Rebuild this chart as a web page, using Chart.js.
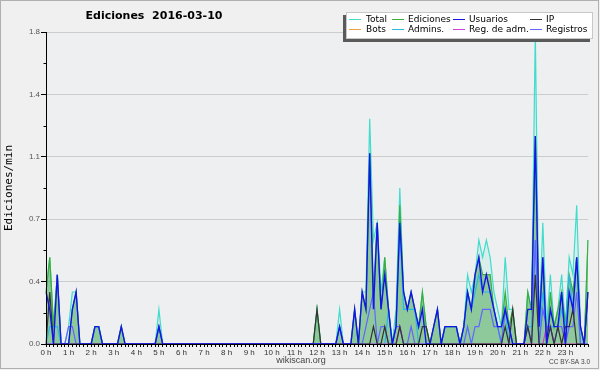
<!DOCTYPE html>
<html>
<head>
<meta charset="utf-8">
<title>Ediciones 2016-03-10</title>
<script src="https://cdn.jsdelivr.net/npm/chart.js@4.4.0/dist/chart.umd.min.js"></script>
<style>
  html, body { margin: 0; padding: 0; background: #f0f0f0; }
  #wrap { width: 600px; height: 370px; }
</style>
</head>
<body>
<div id="wrap"><canvas id="chart" width="600" height="370"></canvas></div>
<script>
// 10 minute slots from 0:00 to 24:00
const slots = [];
for (let h = 0; h <= 24; h++) {
    for (let m = 0; m < 60; m += 10) {
        if (h === 24 && m > 0) break;
        slots.push(h + ':' + (m === 0 ? '00' : m));
    }
}

const hourLabels = ['0 h', '1 h', '2 h', '3 h', '4 h', '5 h', '6 h', '7 h', '8 h', '9 h', '10 h', '11 h',
    '12 h', '13 h', '14 h', '15 h', '16 h', '17 h', '18 h', '19 h', '20 h', '21 h', '22 h', '23 h'];

// edits per minute, one value per 10 min slot
const total = [
    0.3, 0.5, 0.1, 0.4, 0, 0, 0.1, 0.3, 0.3, 0, 0, 0,
    0, 0.1, 0.1, 0, 0, 0, 0, 0, 0.1, 0, 0, 0,
    0, 0, 0, 0, 0, 0, 0.2, 0, 0, 0, 0, 0,
    0, 0, 0, 0, 0, 0, 0, 0, 0, 0, 0, 0,
    0, 0, 0, 0, 0, 0, 0, 0, 0, 0, 0, 0,
    0, 0, 0, 0, 0, 0, 0, 0, 0, 0, 0, 0,
    0.2, 0, 0, 0, 0, 0, 0.2, 0, 0, 0, 0.2, 0,
    0.3, 0.3, 1.3, 0.6, 0.7, 0.3, 0.5, 0.2, 0, 0.2, 0.9, 0.3,
    0.2, 0.3, 0.2, 0.1, 0.3, 0.1, 0, 0.1, 0.2, 0, 0.1, 0.1,
    0.1, 0.1, 0, 0.1, 0.4, 0.3, 0.4, 0.6, 0.5, 0.6, 0.5, 0.3,
    0.2, 0.1, 0.5, 0.2, 0.2, 0, 0, 0, 0.3, 0.2, 1.8, 0.1,
    0.7, 0.1, 0.4, 0.1, 0.2, 0.4, 0.1, 0.5, 0.4, 0.8, 0.1, 0,
    0.6
];
const edits = [
    0.3, 0.5, 0.1, 0.4, 0, 0, 0, 0.2, 0.3, 0, 0, 0,
    0, 0.1, 0.1, 0, 0, 0, 0, 0, 0.1, 0, 0, 0,
    0, 0, 0, 0, 0, 0, 0.1, 0, 0, 0, 0, 0,
    0, 0, 0, 0, 0, 0, 0, 0, 0, 0, 0, 0,
    0, 0, 0, 0, 0, 0, 0, 0, 0, 0, 0, 0,
    0, 0, 0, 0, 0, 0, 0, 0, 0, 0, 0, 0,
    0.2, 0, 0, 0, 0, 0, 0.1, 0, 0, 0, 0.2, 0,
    0.3, 0.2, 1.1, 0.3, 0.7, 0.2, 0.5, 0.2, 0, 0.1, 0.8, 0.3,
    0.2, 0.3, 0.2, 0.1, 0.3, 0.1, 0, 0.1, 0.2, 0, 0.1, 0.1,
    0.1, 0.1, 0, 0.1, 0.3, 0.2, 0.4, 0.5, 0.4, 0.4, 0.4, 0.2,
    0.1, 0.1, 0.3, 0.1, 0.2, 0, 0, 0, 0.3, 0.2, 1.2, 0.1,
    0.5, 0, 0.3, 0.1, 0.2, 0.3, 0.1, 0.4, 0.3, 0.5, 0.1, 0,
    0.6
];
const users = [
    0.3, 0.2, 0, 0.4, 0, 0, 0, 0.2, 0.3, 0, 0, 0,
    0, 0.1, 0.1, 0, 0, 0, 0, 0, 0.1, 0, 0, 0,
    0, 0, 0, 0, 0, 0, 0.1, 0, 0, 0, 0, 0,
    0, 0, 0, 0, 0, 0, 0, 0, 0, 0, 0, 0,
    0, 0, 0, 0, 0, 0, 0, 0, 0, 0, 0, 0,
    0, 0, 0, 0, 0, 0, 0, 0, 0, 0, 0, 0,
    0, 0, 0, 0, 0, 0, 0.1, 0, 0, 0, 0.2, 0,
    0.3, 0.2, 1.1, 0.2, 0.7, 0.2, 0.4, 0.2, 0, 0.1, 0.7, 0.3,
    0.2, 0.3, 0.2, 0.1, 0.2, 0, 0, 0.1, 0.2, 0, 0.1, 0.1,
    0.1, 0.1, 0, 0.1, 0.3, 0.2, 0.4, 0.5, 0.3, 0.4, 0.3, 0.2,
    0.1, 0.1, 0.2, 0.1, 0, 0, 0, 0, 0.2, 0.2, 1.2, 0.1,
    0.5, 0, 0.2, 0.1, 0.1, 0.3, 0, 0.3, 0.2, 0.5, 0.1, 0,
    0.3
];
const ip = [
    0, 0.3, 0, 0, 0, 0, 0, 0, 0, 0, 0, 0,
    0, 0, 0, 0, 0, 0, 0, 0, 0, 0, 0, 0,
    0, 0, 0, 0, 0, 0, 0, 0, 0, 0, 0, 0,
    0, 0, 0, 0, 0, 0, 0, 0, 0, 0, 0, 0,
    0, 0, 0, 0, 0, 0, 0, 0, 0, 0, 0, 0,
    0, 0, 0, 0, 0, 0, 0, 0, 0, 0, 0, 0,
    0.2, 0, 0, 0, 0, 0, 0, 0, 0, 0, 0, 0,
    0, 0, 0, 0.1, 0, 0, 0.1, 0, 0, 0, 0.1, 0,
    0, 0, 0, 0, 0.1, 0.1, 0, 0, 0, 0, 0, 0,
    0, 0, 0, 0, 0, 0, 0, 0, 0, 0, 0, 0,
    0, 0, 0.1, 0, 0.2, 0, 0, 0, 0.1, 0, 0.4, 0,
    0, 0, 0.1, 0, 0.1, 0, 0.1, 0.1, 0.2, 0, 0, 0,
    0.3
];
const admins = [
    0, 0.1, 0.1, 0.1, 0, 0, 0, 0, 0, 0, 0, 0,
    0, 0.1, 0.1, 0, 0, 0, 0, 0, 0, 0, 0, 0,
    0, 0, 0, 0, 0, 0, 0, 0, 0, 0, 0, 0,
    0, 0, 0, 0, 0, 0, 0, 0, 0, 0, 0, 0,
    0, 0, 0, 0, 0, 0, 0, 0, 0, 0, 0, 0,
    0, 0, 0, 0, 0, 0, 0, 0, 0, 0, 0, 0,
    0, 0, 0, 0, 0, 0, 0, 0, 0, 0, 0, 0,
    0, 0, 0, 0, 0, 0, 0, 0.2, 0, 0.1, 0.7, 0.2,
    0.2, 0.2, 0.2, 0, 0, 0, 0, 0, 0, 0, 0.1, 0.1,
    0.1, 0.1, 0, 0.1, 0.3, 0.2, 0.3, 0.4, 0.3, 0.3, 0.3, 0.2,
    0.1, 0, 0.2, 0, 0, 0, 0, 0, 0.1, 0.1, 0.6, 0,
    0.3, 0.1, 0.1, 0.1, 0.1, 0.2, 0.1, 0.4, 0.2, 0.5, 0, 0,
    0
];
const adminLogs = [
    0, 0, 0, 0, 0, 0, 0, 0, 0, 0, 0, 0,
    0, 0, 0, 0, 0, 0, 0, 0, 0, 0, 0, 0,
    0, 0, 0, 0, 0, 0, 0, 0, 0, 0, 0, 0,
    0, 0, 0, 0, 0, 0, 0, 0, 0, 0, 0, 0,
    0, 0, 0, 0, 0, 0, 0, 0, 0, 0, 0, 0,
    0, 0, 0, 0, 0, 0, 0, 0, 0, 0, 0, 0,
    0, 0, 0, 0, 0, 0, 0, 0, 0, 0, 0, 0,
    0, 0, 0, 0, 0, 0, 0, 0, 0, 0, 0.1, 0,
    0, 0, 0, 0, 0, 0, 0, 0, 0, 0, 0, 0,
    0, 0, 0, 0, 0, 0, 0, 0, 0, 0, 0, 0,
    0, 0, 0, 0, 0, 0, 0, 0, 0, 0, 0, 0,
    0, 0.1, 0.1, 0, 0, 0, 0, 0, 0, 0, 0, 0,
    0
];
const logs = [
    0, 0, 0, 0, 0, 0, 0.1, 0.1, 0, 0, 0, 0,
    0, 0, 0, 0, 0, 0, 0, 0, 0, 0, 0, 0,
    0, 0, 0, 0, 0, 0, 0.1, 0, 0, 0, 0, 0,
    0, 0, 0, 0, 0, 0, 0, 0, 0, 0, 0, 0,
    0, 0, 0, 0, 0, 0, 0, 0, 0, 0, 0, 0,
    0, 0, 0, 0, 0, 0, 0, 0, 0, 0, 0, 0,
    0, 0, 0, 0, 0, 0, 0.1, 0, 0, 0, 0, 0,
    0, 0.1, 0.2, 0.3, 0, 0.1, 0.1, 0, 0, 0.1, 0.1, 0,
    0, 0.1, 0, 0, 0, 0, 0, 0, 0, 0, 0, 0,
    0, 0, 0, 0, 0.1, 0, 0.1, 0.1, 0.2, 0.2, 0.2, 0.1,
    0.1, 0, 0.2, 0.1, 0, 0, 0, 0, 0.1, 0, 0.6, 0,
    0.2, 0.1, 0.1, 0, 0.1, 0.1, 0, 0.1, 0.1, 0.3, 0, 0,
    0
];
const bots = [
    0, 0, 0, 0, 0, 0, 0, 0, 0, 0, 0, 0,
    0, 0, 0, 0, 0, 0, 0, 0, 0, 0, 0, 0,
    0, 0, 0, 0, 0, 0, 0, 0, 0, 0, 0, 0,
    0, 0, 0, 0, 0, 0, 0, 0, 0, 0, 0, 0,
    0, 0, 0, 0, 0, 0, 0, 0, 0, 0, 0, 0,
    0, 0, 0, 0, 0, 0, 0, 0, 0, 0, 0, 0,
    0, 0, 0, 0, 0, 0, 0, 0, 0, 0, 0, 0,
    0, 0, 0, 0, 0, 0, 0, 0, 0, 0, 0, 0,
    0, 0, 0, 0, 0, 0, 0, 0, 0, 0, 0, 0,
    0, 0, 0, 0, 0, 0, 0, 0, 0, 0, 0, 0,
    0, 0, 0, 0, 0, 0, 0, 0, 0, 0, 0, 0,
    0, 0, 0, 0, 0, 0, 0, 0, 0, 0, 0, 0,
    0
];

const colors = {
    total: '#40dccc',
    edits: '#3cae3c',
    users: '#1414e6',
    ip: '#333333',
    bots: '#f0a040',
    admins: '#2cb8e0',
    adminLogs: '#d040d8',
    logs: '#6464ff'
};

// legend layout: 4 columns, 2 rows
const legendItems = [
    { text: 'Total', color: colors.total },
    { text: 'Ediciones', color: colors.edits },
    { text: 'Usuarios', color: colors.users },
    { text: 'IP', color: colors.ip },
    { text: 'Bots', color: colors.bots },
    { text: 'Admins.', color: colors.admins },
    { text: 'Reg. de adm.', color: colors.adminLogs },
    { text: 'Registros', color: colors.logs }
];
const legendCols = [349, 392, 453, 530];

function serie(label, data, color, width, order, fill) {
    return {
        label: label,
        data: data,
        borderColor: color,
        borderWidth: width,
        backgroundColor: fill || 'transparent',
        fill: fill ? 'origin' : false,
        pointRadius: 0,
        tension: 0,
        order: order
    };
}

const decor = {
    id: 'decor',
    beforeDraw(chart) {
        const ctx = chart.ctx;
        const a = chart.chartArea;
        ctx.save();
        ctx.fillStyle = '#f0f0f0';
        ctx.fillRect(0, 0, chart.width, chart.height);
        ctx.fillStyle = '#eeeff1';
        ctx.fillRect(a.left, a.top, a.right - a.left + 2, a.bottom - a.top);
        ctx.strokeStyle = '#b0b0b0';
        ctx.lineWidth = 1;
        ctx.strokeRect(0.5, 0.5, 598, 368);
        ctx.restore();
    },
    afterDatasetsDraw(chart) {
        const ctx = chart.ctx;
        const xs = chart.scales.x;
        const ys = chart.scales.y;
        const x0 = Math.round(xs.left) + 0.5;
        const y0 = Math.round(ys.bottom) + 0.5;
        ctx.save();
        ctx.strokeStyle = '#000';
        ctx.lineWidth = 1;
        ctx.beginPath();
        ctx.moveTo(x0, ys.top);
        ctx.lineTo(x0, y0);
        ctx.lineTo(xs.right + 1, y0);
        // minor y ticks
        for (let k = 0; k < 5; k++) {
            const y = Math.round(ys.getPixelForValue(0.18 + k * 0.36)) + 0.5;
            ctx.moveTo(x0 - 3, y);
            ctx.lineTo(x0, y);
        }
        ctx.stroke();
        ctx.restore();
    },
    afterDraw(chart) {
        const ctx = chart.ctx;
        ctx.save();
        // title
        ctx.fillStyle = '#000';
        ctx.font = 'bold 11px "DejaVu Sans", sans-serif';
        ctx.textAlign = 'center';
        ctx.textBaseline = 'middle';
        ctx.fillText('Ediciones  2016-03-10', 154, 16);

        // legend box with shadow
        ctx.fillStyle = '#5a5a5a';
        ctx.fillRect(343, 15, 247, 27);
        ctx.fillStyle = '#ffffff';
        ctx.fillRect(346, 12, 247, 27);
        ctx.strokeStyle = '#c8c8c8';
        ctx.strokeRect(346.5, 12.5, 246, 26);
        ctx.font = '9px "DejaVu Sans", sans-serif';
        ctx.textAlign = 'left';
        legendItems.forEach(function (item, i) {
            const col = i % 4;
            const row = Math.floor(i / 4);
            const lx = legendCols[col];
            const y = 19.5 + row * 10;
            ctx.strokeStyle = item.color;
            ctx.lineWidth = 1;
            ctx.beginPath();
            ctx.moveTo(lx, y);
            ctx.lineTo(lx + 12, y);
            ctx.stroke();
            ctx.fillStyle = '#000';
            ctx.fillText(item.text, lx + (col === 0 ? 17 : 16), y);
        });

        // footer
        ctx.fillStyle = '#444';
        ctx.textAlign = 'center';
        ctx.font = '9px "Liberation Sans", sans-serif';
        ctx.fillText('wikiscan.org', 301, 361);
        ctx.textAlign = 'right';
        ctx.font = '6.5px "Liberation Sans", sans-serif';
        ctx.fillText('CC BY-SA 3.0', 590, 362);
        ctx.restore();
    }
};

Chart.defaults.font.family = '"Liberation Sans", Arial, sans-serif';
Chart.defaults.font.size = 8;
Chart.defaults.color = '#555';

new Chart(document.getElementById('chart'), {
    type: 'line',
    data: {
        labels: slots,
        datasets: [
            serie('Total', total, colors.total, 1.2, 7, 'rgba(64, 224, 208, 0.12)'),
            serie('Ediciones', edits, colors.edits, 1.2, 6, 'rgba(60, 160, 70, 0.48)'),
            serie('Usuarios', users, colors.users, 1.4, 1),
            serie('IP', ip, colors.ip, 1.2, 2),
            serie('Bots', bots, colors.bots, 1, 8),
            serie('Admins.', admins, colors.admins, 1.2, 5),
            serie('Reg. de adm.', adminLogs, colors.adminLogs, 1.2, 4),
            serie('Registros', logs, colors.logs, 1.2, 3)
        ]
    },
    options: {
        responsive: false,
        animation: false,
        devicePixelRatio: 1,
        layout: { padding: { left: 0, right: 12, top: 32, bottom: 0 } },
        plugins: {
            legend: { display: false },
            title: { display: false },
            tooltip: { enabled: false }
        },
        scales: {
            x: {
                type: 'category',
                offset: false,
                afterFit: function (scale) { scale.height = 26; },
                grid: {
                    display: true,
                    drawOnChartArea: false,
                    drawTicks: true,
                    tickLength: 3,
                    color: '#000'
                },
                border: { color: '#000' },
                ticks: {
                    autoSkip: false,
                    maxRotation: 0,
                    minRotation: 0,
                    padding: 1,
                    color: '#333',
                    font: { size: 8 },
                    callback: function (val, idx) {
                        return idx % 6 === 0 && idx / 6 < hourLabels.length ? hourLabels[idx / 6] : '';
                    }
                }
            },
            y: {
                min: 0,
                max: 1.8,
                afterFit: function (scale) { scale.width = 46; },
                grid: {
                    color: '#cccccc',
                    tickColor: '#000',
                    tickLength: 5,
                    lineWidth: 1
                },
                border: { color: '#000' },
                ticks: {
                    stepSize: 0.36,
                    padding: 1,
                    color: '#555',
                    font: { size: 8 },
                    callback: function (v) { return v.toFixed(1); }
                },
                title: {
                    display: true,
                    text: 'Ediciones/min',
                    color: '#000',
                    font: { family: '"DejaVu Sans Mono", monospace', size: 11 },
                    padding: { top: 3, bottom: 0 }
                }
            }
        }
    },
    plugins: [decor]
});
</script>
</body>
</html>
